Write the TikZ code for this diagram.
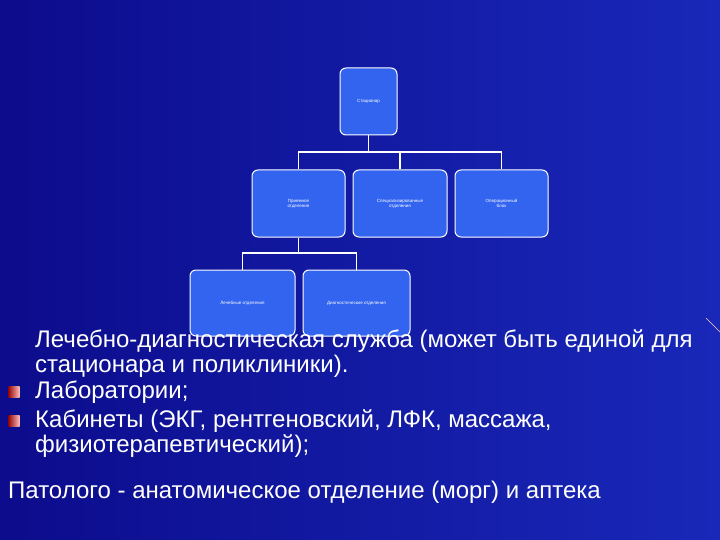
\documentclass[tikz,border=0pt]{standalone}
\usepackage{fontspec}
\setmainfont{Liberation Sans}
\begin{document}
\begin{tikzpicture}[x=1pt,y=-1pt,
 box/.style={draw=white,line width=1pt,fill={rgb,255:red,50;green,100;blue,240},rounded corners=6pt,text=white,font=\fontsize{4.5}{5}\selectfont,align=center,inner sep=1pt},
 conn/.style={draw=white,line width=1.5pt},
 txt/.style={text=white,font=\fontsize{24}{26}\selectfont,anchor=west,inner sep=0pt},
 bul/.style={inner sep=0pt,minimum size=11pt,left color={rgb,255:red,150;green,10;blue,10},right color={rgb,255:red,255;green,190;blue,190}}]
\shade[left color={rgb,255:red,12;green,12;blue,140},right color={rgb,255:red,25;green,40;blue,185}] (0,0) rectangle (720,540);
\useasboundingbox (0,0) rectangle (720,540);
\node[box,minimum width=57pt,minimum height=67pt] (st) at (368.5,101.5) {Стационар};
\node[box,minimum width=93pt,minimum height=67pt] (pr) at (298.5,203.5) {Приемное\\отделение};
\node[box,minimum width=94pt,minimum height=67pt] (sp) at (400,203.5) {Специализированные\\отделения};
\node[box,minimum width=93pt,minimum height=67pt] (op) at (501.5,203.5) {Операционный\\блок};
\node[box,minimum width=105pt,minimum height=66pt] (b1) at (242.5,303) {Лечебные отделения};
\node[box,minimum width=107pt,minimum height=66pt] (b2) at (356.5,303) {Диагностические отделения};
\coordinate (h1) at (368.5,152);
\coordinate (h2) at (298.5,253);
\draw[conn] (st.south) -- (h1) (pr.north) |- (h1) -| (op.north) (sp.north) -- (sp.north |- h1);
\draw[conn] (pr.south) -- (h2) (b1.north) |- (h2) -| (b2.north);
\draw[white!80!red,line width=0.6pt] (706,318) -- (720,332);
\node[txt] (t1) at (35,341) {Лечебно-диагностическая служба (может быть единой для};
\node[txt] (t2) at (35,366) {стационара и поликлиники).};
\node[bul] (u1) at (14,392) {};
\node[txt] (t3) at (35,392) {Лаборатории;};
\node[bul] (u2) at (14,421) {};
\node[txt] (t4) at (35,421) {Кабинеты (ЭКГ, рентгеновский, ЛФК, массажа,};
\node[txt] (t5) at (35,446) {физиотерапевтический);};
\node[txt] (t6) at (8,492) {Патолого - анатомическое отделение (морг) и аптека};
\end{tikzpicture}
\end{document}
